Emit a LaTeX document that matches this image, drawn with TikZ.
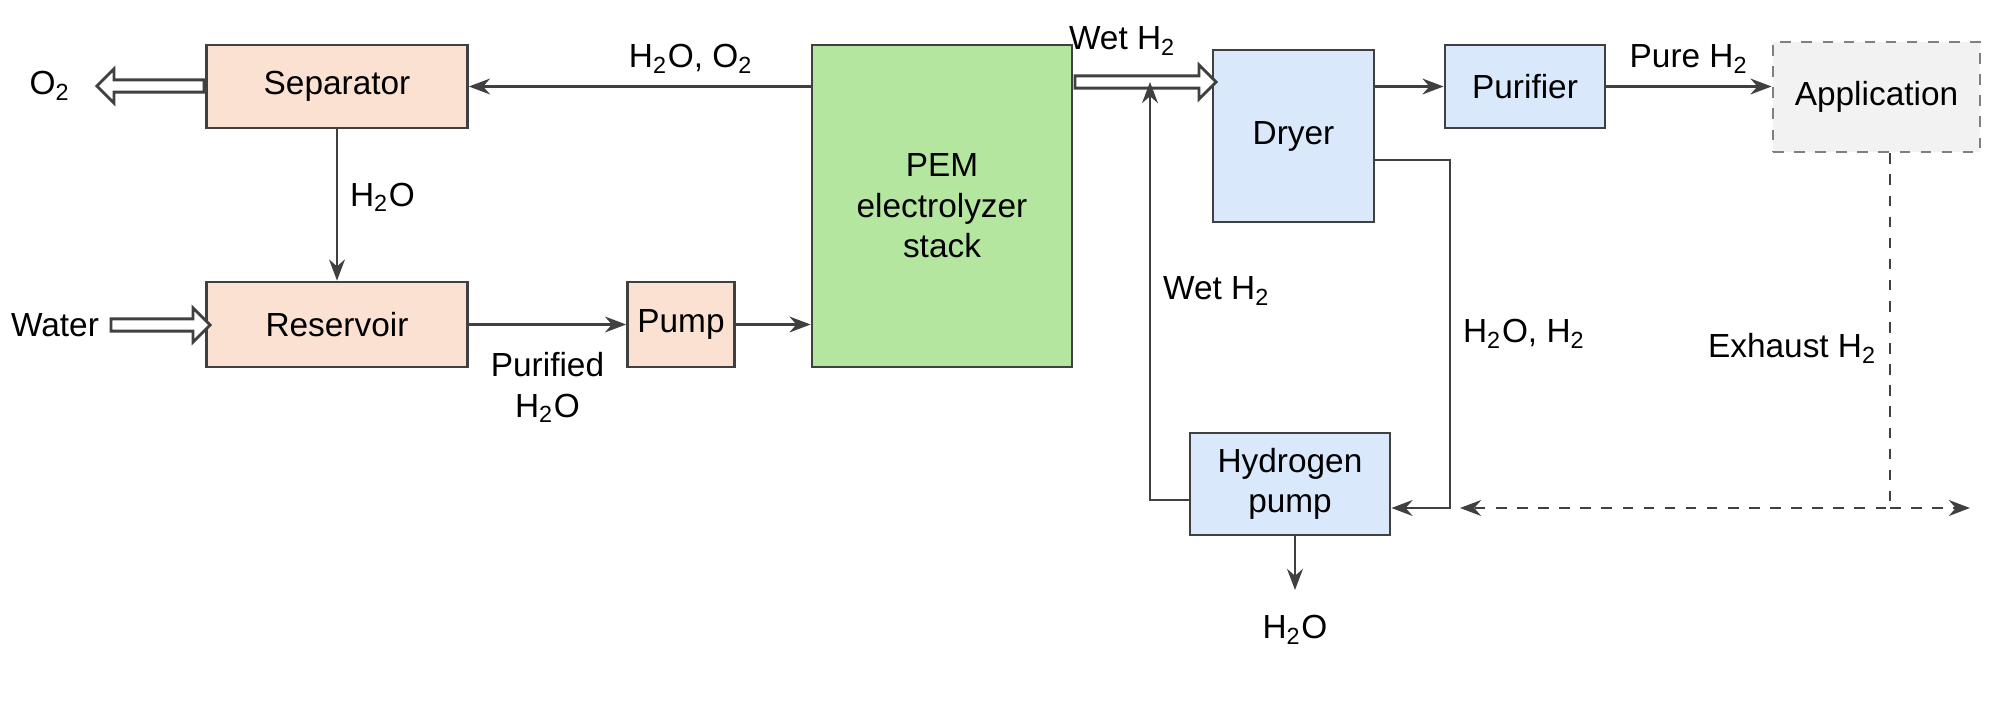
\documentclass[tikz,border=0pt]{standalone}
\usepackage{fontspec}
\setmainfont{Liberation Sans}
\usetikzlibrary{arrows.meta, positioning, shapes.arrows}
\definecolor{peach}{HTML}{FBE1D2}
\definecolor{leaf}{HTML}{B4E6A0}
\definecolor{sky}{HTML}{DAE8FC}
\definecolor{ink}{HTML}{404040}
\newcommand{\sub}[1]{\textsubscript{#1}}
\begin{document}
\begin{tikzpicture}[x=1cm, y=-1cm, font=\fontsize{9.5}{11.5}\selectfont,
	unit/.style={draw=ink, thick, align=center, inner sep=0pt},
	flow/.style={draw=ink, thick, -{Stealth[length=6pt]}},
	hollow/.style={single arrow, draw=ink, fill=white, thick, minimum height=1.3cm, minimum width=0.34cm, single arrow head extend=2.5pt, single arrow head indent=0pt, inner sep=1pt}]
	\useasboundingbox (0,0) rectangle (20,7.07);

	\node [unit, fill=peach, minimum width=2.61cm, minimum height=0.83cm] (separator) at (3.37, 0.865) {Separator};
	\node [unit, fill=peach, minimum width=2.61cm, minimum height=0.85cm] (reservoir) at (3.37, 3.245) {Reservoir};
	\node [unit, fill=peach, minimum width=1.07cm, minimum height=0.85cm] (pump) at (6.81, 3.245) {Pump};
	\node [unit, fill=leaf, minimum width=2.6cm, minimum height=3.22cm] (stack) at (9.42, 2.06) {PEM\\electrolyzer\\stack};
	\node [unit, fill=sky, minimum width=1.61cm, minimum height=1.72cm] (dryer) at (12.935, 1.36) {Dryer};
	\node [unit, fill=sky, minimum width=1.6cm, minimum height=0.83cm] (purifier) at (15.25, 0.865) {Purifier};
	\node [unit, draw=gray, dashed, fill=gray!10, minimum width=2.07cm, minimum height=1.1cm] (app) at (18.765, 0.97) {Application};
	\node [unit, fill=sky, minimum width=2.0cm, minimum height=1.02cm] (hpump) at (12.9, 4.84) {Hydrogen\\pump};

	\node (o2) at (0.5, 0.86) {O\sub{2}};
	\node (water) at (0.55, 3.25) {Water};
	\node (drain) at (12.95, 6.3) {H\sub{2}O};
	\coordinate (drainend) at (12.95, 5.9);
	\coordinate (wetup) at (11.5, 0.82);
	\coordinate (exleft) at (14.6, 5.08);
	\coordinate (exright) at (19.7, 5.08);
	\coordinate (excorner) at (18.9, 5.08);

	% hollow feeds
	\node [hollow, minimum height=1.07cm, shape border rotate=180] (o2arrow) at (1.535, 0.86) {};
	\node [hollow, minimum height=0.99cm] (waterarrow) at (1.575, 3.25) {};
	\node [hollow, minimum height=1.41cm] (wetarrow) at (11.425, 0.82) {};
	\node [above=2pt of wetarrow.north, xshift=-0.2cm] {Wet H\sub{2}};

	\draw[flow] (stack.west |- separator) -- node[above, pos=0.35] {H\sub{2}O, O\sub{2}} (separator);
	\draw[flow] (separator) -- node[right, pos=0.45] {H\sub{2}O} (reservoir);
	\draw[flow] (reservoir) -- node[below=0.15cm, pos=0.5, align=center] {Purified\\H\sub{2}O} (pump);
	\draw[flow] (pump) -- (stack.west |- pump);
	\draw[flow] (hpump.west |- 0,5.0) -| node[right, pos=0.75] {Wet H\sub{2}} (wetup);
	\draw[flow] (dryer.east |- purifier) -- (purifier);
	\draw[flow] (purifier) -- node[above] {Pure H\sub{2}} (app.west |- purifier);
	\draw[flow] (dryer.east |- 0,1.6) -| (14.5,1.6) |- node[right, pos=0.25] {H\sub{2}O, H\sub{2}} (hpump.east |- 0,5.08);
	\draw[flow] (hpump.south -| drainend) -- (drainend);
	\draw[flow, dashed] (app.south -| excorner) -- node[left, pos=0.55] {Exhaust H\sub{2}} (excorner) -- (exleft);
	\draw[flow, dashed] (excorner) -- (exright);
\end{tikzpicture}
\end{document}
